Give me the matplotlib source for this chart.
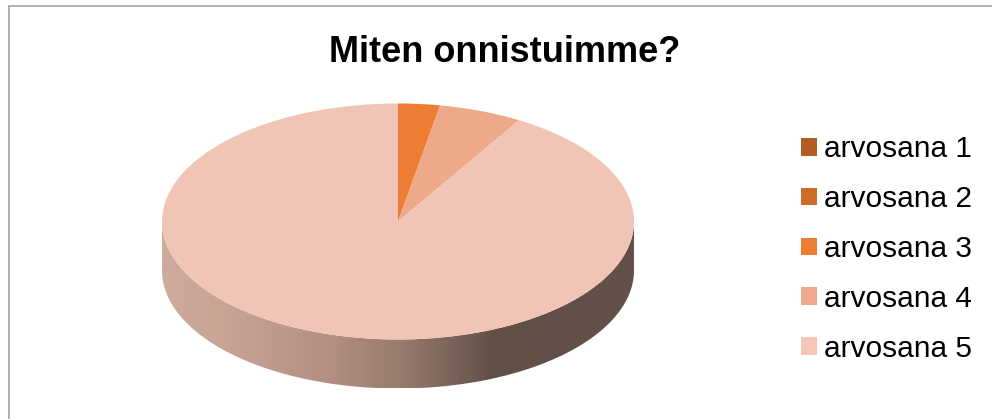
"""Pie chart of course grades with a flat 3D look."""

import matplotlib

matplotlib.use("Agg")

import matplotlib.pyplot as plt
import numpy as np
from matplotlib.colors import LinearSegmentedColormap
from matplotlib.lines import Line2D
from matplotlib.patches import PathPatch, Patch
from matplotlib.path import Path

TITLE = "Miten onnistuimme?"
GRADES = ["arvosana 1", "arvosana 2", "arvosana 3", "arvosana 4", "arvosana 5"]
COUNTS = [0, 0, 1, 2, 32]
SLICE_COLORS = ["#B05C22", "#D06C2B", "#EC7D32", "#EEA98A", "#F1C5B5"]
LEGEND_COLORS = ["#B05C22", "#D06C2B", "#ED7D31", "#F2A88D", "#F4C7B9"]

WIDTH, HEIGHT = 992, 419
DEPTH = 49 / 118  # rim height in units of the squashed radius

plt.rcParams["font.family"] = ["Liberation Sans", "DejaVu Sans"]

fig = plt.figure(figsize=(WIDTH / 100, HEIGHT / 100), dpi=100)

# axes cover the ellipse plus the rim below it
left, right, top, bottom = 162, 634, 103.5, 388.5
ax = fig.add_axes([
    left / WIDTH,
    1 - bottom / HEIGHT,
    (right - left) / WIDTH,
    (bottom - top) / HEIGHT,
])

wedges, _ = ax.pie(
    COUNTS,
    colors=SLICE_COLORS,
    startangle=90,
    counterclock=False,
    radius=1,
    wedgeprops={"linewidth": 0, "zorder": 3},
)
ax.set_aspect("auto")

# rim: horizontal shading clipped to the band under the front half
rim_cmap = LinearSegmentedColormap.from_list(
    "rim",
    [
        (0.00, "#CFAB9D"),
        (0.12, "#C9A596"),
        (0.35, "#B39082"),
        (0.50, "#987C6E"),
        (0.60, "#7F675B"),
        (0.70, "#625047"),
        (1.00, "#62504A"),
    ],
)
shade = ax.imshow(
    np.linspace(0, 1, 512)[np.newaxis, :],
    cmap=rim_cmap,
    extent=[-1, 1, -1 - DEPTH, 0],
    aspect="auto",
    zorder=1,
)
t = np.linspace(np.pi, 2 * np.pi, 200)
rim_x = np.concatenate([np.cos(t), np.cos(t)[::-1]])
rim_y = np.concatenate([np.sin(t), np.sin(t)[::-1] - DEPTH])
rim_patch = PathPatch(Path(np.column_stack([rim_x, rim_y])), transform=ax.transData)
shade.set_clip_path(rim_patch)

ax.set_xlim(-1, 1)
ax.set_ylim(-1 - DEPTH, 1)
ax.axis("off")

fig.text(505 / WIDTH, 1 - 53 / HEIGHT, TITLE, fontsize=26, fontweight="bold",
         ha="center", va="center", color="black")

handles = [Patch(facecolor=c, edgecolor="none") for c in LEGEND_COLORS]
fig.legend(
    handles,
    GRADES,
    loc="center left",
    bbox_to_anchor=(801 / WIDTH, 1 - 249 / HEIGHT),
    frameon=False,
    fontsize=21.5,
    borderpad=0,
    borderaxespad=0,
    handlelength=0.535,
    handleheight=0.535,
    handletextpad=0.23,
    labelspacing=0.73,
    labelcolor="black",
)

# chart frame, only the top and left edges are in view
frame_x = 8.5 / WIDTH
frame_y = 1 - 6.5 / HEIGHT
fig.add_artist(Line2D([frame_x, 1], [frame_y, frame_y], color="#9C9C9C", lw=1.1))
fig.add_artist(Line2D([frame_x, frame_x], [0, frame_y], color="#A8A8A8", lw=1.3))

fig.savefig("out.png", dpi=100)
plt.close(fig)
